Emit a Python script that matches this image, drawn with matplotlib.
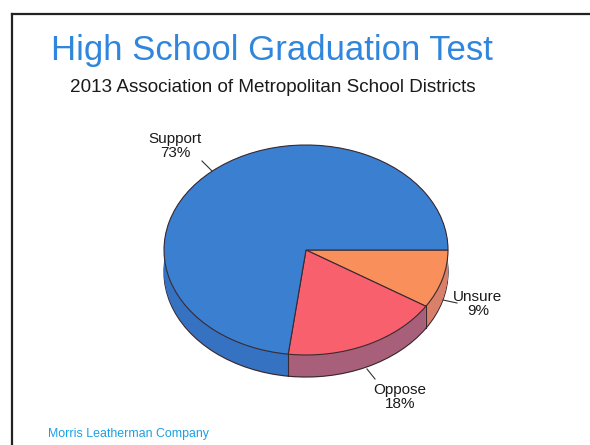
import numpy as np
import matplotlib
matplotlib.use("Agg")
import matplotlib.pyplot as plt
from matplotlib.lines import Line2D

# ---- data ----
categories = ["Unsure", "Oppose", "Support"]
values = [9, 18, 73]
top_colors = ["#f98f5a", "#f8606e", "#3b7fd0"]
side_colors = ["#d8806a", "#a8607a", "#3572c2"]

title = "High School Graduation Test"
subtitle = "2013 Association of Metropolitan School Districts"
footer = "Morris Leatherman Company"

plt.rcParams['font.family'] = ['Liberation Sans', 'DejaVu Sans']

W, H = 590, 445
fig = plt.figure(figsize=(W / 100, H / 100), dpi=100)
fig.patch.set_facecolor("white")

# pie geometry in pixels
cx, cy, rx, ry = 306, 250, 142, 105
xl = (-1.25, 1.25)
yl = (-1.6, 1.2)
left = (cx + xl[0] * rx) / W
width = (xl[1] - xl[0]) * rx / W
top_px = cy - yl[1] * ry
bot_px = cy - yl[0] * ry
ax = fig.add_axes([left, (H - bot_px) / H, width, (bot_px - top_px) / H])

depth = 22 / ry
n_layers = 24
edge = "#3a2a30"

# side (depth) layers
for i, d in enumerate(np.linspace(depth, 0.0, n_layers)):
    ax.pie(values, colors=side_colors, startangle=0, counterclock=False,
           center=(0, -d), radius=1.0,
           wedgeprops=dict(linewidth=0.9 if i == 0 else 0,
                           edgecolor=edge if i == 0 else "none"))

# vertical edges at slice boundaries on the visible side
fr = np.cumsum(values) / np.sum(values)
for f in fr[:-1]:
    ang = np.deg2rad(-360 * f)
    x = np.cos(ang)
    y = np.sin(ang)
    if y < 0:
        ax.plot([x, x], [y, y - depth], color=edge, lw=0.8, zorder=5)

# top face
ax.pie(values, colors=top_colors, startangle=0, counterclock=False,
       center=(0, 0), radius=1.0,
       wedgeprops=dict(linewidth=0.8, edgecolor=edge))

ax.set_aspect('auto')
ax.set_xlim(*xl)
ax.set_ylim(*yl)
ax.axis('off')

# labels (data coords: x=(px-cx)/rx, y=(cy-py)/ry)
def d(px, py):
    return ((px - cx) / rx, (cy - py) / ry)

label_pos = {"Support": (175, 146), "Unsure": (478, 304), "Oppose": (400, 397)}
leader = {"Support": ((202, 161), (212, 171)),
          "Unsure": ((443, 300), (457, 303)),
          "Oppose": ((367, 369), (375, 379))}
for cat, v in zip(categories, values):
    x, y = d(*label_pos[cat])
    ax.text(x, y, f"{cat}\n{v}%", ha="center", va="center", fontsize=11,
            color="#1a1a1a", linespacing=1.05)
    (p0, p1) = leader[cat]
    a, b = d(*p0)
    c, e = d(*p1)
    ax.plot([a, c], [b, e], color="#333333", lw=0.8)

# titles
fig.text(272 / W, (H - 60) / H, title, ha="center", va="baseline",
         fontsize=25, color="#3086dc")
fig.text(273 / W, (H - 92) / H, subtitle, ha="center", va="baseline",
         fontsize=13.6, color="#1a1a1a")
fig.text(48 / W, (H - 437) / H, footer, ha="left", va="baseline",
         fontsize=8.9, color="#1aa0e4")

# frame lines
fig.add_artist(Line2D([12 / W, 1.0], [(H - 14) / H, (H - 14) / H],
                      color="#222222", lw=1.6, transform=fig.transFigure))
fig.add_artist(Line2D([12 / W, 12 / W], [(H - 14) / H, 0.0],
                      color="#222222", lw=1.6, transform=fig.transFigure))

fig.savefig("out.png", dpi=100)
